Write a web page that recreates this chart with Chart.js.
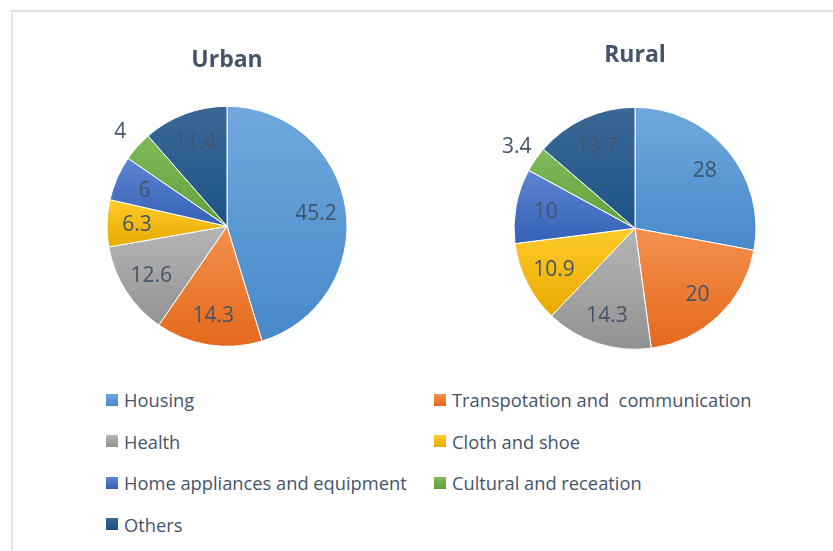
<!DOCTYPE html>
<html>
<head>
<meta charset="utf-8">
<script src="https://cdn.jsdelivr.net/npm/chart.js@4.4.1/dist/chart.umd.min.js"></script>
<style>
  html, body { margin: 0; padding: 0; background: #fff; }
  body { width: 833px; height: 551px; position: relative; overflow: hidden; font-family: "Open Sans", sans-serif; }
  .frame { position: absolute; left: 11px; top: 10px; width: 900px; height: 600px;
           border-top: 2px solid #dfe2ea; border-left: 2px solid #dfe2ea; }
  .box { position: absolute; }
  .legend-item { position: absolute; height: 20px; display: flex; align-items: center;
                 font-size: 18.3px; color: #44546a; white-space: pre; }
  .legend-item span.mk { width: 12px; height: 12px; margin-right: 6px; display: inline-block; }
</style>
</head>
<body>
<div class="frame"></div>
<div class="box" style="left:77px;top:30px;width:300px;height:331px;"><canvas id="urbanChart"></canvas></div>
<div class="box" style="left:485px;top:26px;width:300px;height:343px;"><canvas id="ruralChart"></canvas></div>
<div id="legend"></div>
<script>
// --- data ---
const categories = ['Housing', 'Transpotation and  communication', 'Health', 'Cloth and shoe',
                    'Home appliances and equipment', 'Cultural and receation', 'Others'];
const urbanValues = [45.2, 14.3, 12.6, 6.3, 6, 4, 11.4];
const ruralValues = [28, 20, 14.3, 10.9, 10, 3.4, 13.7];

// light (top) / dark (bottom) tones of each slice
const topColors = ['#70a8dd', '#f4904e', '#b5b5b5', '#ffca2a', '#5d86d1', '#80ba5b', '#3b6896'];
const bottomColors = ['#4689ca', '#e4691b', '#929292', '#e7ab00', '#3461b6', '#62a03a', '#1c5488'];
const textColor = '#44546a';

// gradient across each slice's own vertical extent
function sliceGradient(c) {
    const chart = c.chart;
    const area = chart.chartArea;
    if (!area) return topColors[c.dataIndex];
    const vals = c.dataset.data;
    const total = vals.reduce((a, b) => a + b, 0);
    let before = 0;
    for (let i = 0; i < c.dataIndex; i++) before += vals[i];
    const a0 = -Math.PI / 2 + before / total * Math.PI * 2;
    const a1 = a0 + vals[c.dataIndex] / total * Math.PI * 2;
    const cy = (area.top + area.bottom) / 2;
    const r = c.dataset.radius || 120;
    let ymin = cy, ymax = cy;
    for (let k = 0; k <= 40; k++) {
        const y = cy + Math.sin(a0 + (a1 - a0) * k / 40) * r;
        ymin = Math.min(ymin, y); ymax = Math.max(ymax, y);
    }
    const g = chart.ctx.createLinearGradient(0, ymin, 0, ymax);
    g.addColorStop(0, topColors[c.dataIndex]);
    g.addColorStop(1, bottomColors[c.dataIndex]);
    return g;
}

// value labels: inside for big slices, outside for small ones
const valueLabels = {
    id: 'valueLabels',
    afterDatasetsDraw(chart) {
        const ctx = chart.ctx;
        const meta = chart.getDatasetMeta(0);
        const vals = chart.data.datasets[0].data;
        ctx.save();
        ctx.font = '21px "Open Sans"';
        ctx.fillStyle = textColor;
        ctx.textAlign = 'center';
        ctx.textBaseline = 'middle';
        meta.data.forEach((arc, i) => {
            const mid = (arc.startAngle + arc.endAngle) / 2;
            const k = vals[i] < 5 ? 1.19 : 0.75;
            const x = arc.x + Math.cos(mid) * arc.outerRadius * k;
            const y = arc.y + Math.sin(mid) * arc.outerRadius * k;
            ctx.fillText(String(vals[i]), x, y + 1);
        });
        ctx.restore();
    }
};

function makePie(id, title, values, radius, padTop, padBottom) {
    return new Chart(document.getElementById(id), {
        type: 'pie',
        data: {
            labels: categories,
            datasets: [{
                data: values,
                radius: radius,
                backgroundColor: sliceGradient,
                borderColor: '#ffffff',
                borderWidth: 1
            }]
        },
        options: {
            responsive: true,
            maintainAspectRatio: false,
            animation: false,
            layout: { padding: 0 },
            plugins: {
                legend: { display: false },
                tooltip: { enabled: false },
                title: {
                    display: true,
                    text: title,
                    color: textColor,
                    font: { family: 'Open Sans', size: 23, weight: 'bold' },
                    padding: { top: padTop, bottom: padBottom }
                }
            }
        },
        plugins: [valueLabels]
    });
}

makePie('urbanChart', 'Urban', urbanValues, 120, 17, 17);
makePie('ruralChart', 'Rural', ruralValues, 121, 16, 18);

// --- legend (two columns) ---
const legendCols = [106, 434];
const legendRows = [400.5, 442, 483.5, 525];
const legend = document.getElementById('legend');
categories.forEach((name, i) => {
    const item = document.createElement('div');
    item.className = 'legend-item';
    item.style.left = legendCols[i % 2] + 'px';
    item.style.top = (legendRows[Math.floor(i / 2)] - 11) + 'px';
    item.innerHTML = `<span class="mk" style="background:linear-gradient(${topColors[i]}, ${bottomColors[i]})"></span>${name}`;
    legend.appendChild(item);
});
</script>
</body>
</html>
